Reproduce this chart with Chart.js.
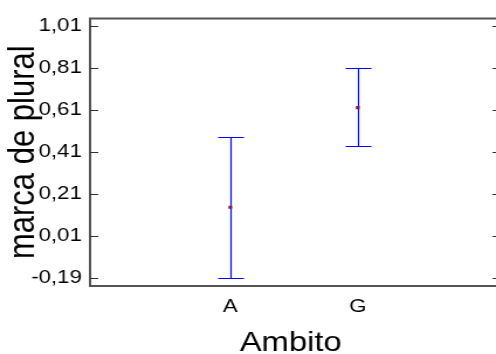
<!DOCTYPE html>
<html lang="es">
<head>
<meta charset="UTF-8">
<title>marca de plural por Ambito</title>
<script src="https://cdn.jsdelivr.net/npm/chart.js"></script>
<style>
  html, body { margin: 0; padding: 0; background: #fff; overflow: hidden; }
  /* the reference is stretched sideways, so draw narrower and scale up */
  .wrap { width: 424px; height: 354px; transform: scaleX(1.1698); transform-origin: 0 0; }
</style>
</head>
<body>
<div class="wrap"><canvas id="chart" width="424" height="354"></canvas></div>
<script>
const categories = ['A', 'G'];
const means = [0.147, 0.621];
const lower = [-0.192, 0.438];
const upper = [0.479, 0.809];
const yTicks = [-0.19, 0.01, 0.21, 0.41, 0.61, 0.81, 1.01];

const FONT = "'Liberation Sans', Arial, sans-serif";

// error bars: vertical line plus caps, positioned through the chart scales
const errorBars = {
  id: 'errorBars',
  beforeDatasetsDraw(chart) {
    const ctx = chart.ctx, xs = chart.scales.x, ys = chart.scales.y;
    ctx.save();
    ctx.strokeStyle = '#0000ff';
    ctx.lineWidth = 1.2;
    categories.forEach((c, i) => {
      const x = Math.round(xs.getPixelForValue(i + 1)) + 0.5;
      const yl = Math.round(ys.getPixelForValue(lower[i])) + 0.5;
      const yh = Math.round(ys.getPixelForValue(upper[i])) + 0.5;
      ctx.beginPath();
      ctx.moveTo(x, yl); ctx.lineTo(x, yh);
      ctx.moveTo(x - 11, yl); ctx.lineTo(x + 11, yl);
      ctx.moveTo(x - 11, yh); ctx.lineTo(x + 11, yh);
      ctx.stroke();
    });
    ctx.restore();
  }
};

// frame with inward tick marks
const frame = {
  id: 'frame',
  afterDraw(chart) {
    const ctx = chart.ctx, a = chart.chartArea, ys = chart.scales.y;
    ctx.save();
    ctx.strokeStyle = '#555';
    ctx.lineWidth = 2;
    ctx.beginPath();
    ctx.moveTo(chart.width, a.top); ctx.lineTo(a.left, a.top);
    ctx.lineTo(a.left, a.bottom); ctx.lineTo(chart.width, a.bottom);
    ctx.stroke();
    ctx.lineWidth = 1;
    ctx.strokeStyle = '#333';
    ctx.beginPath();
    yTicks.forEach(v => {
      const y = Math.round(ys.getPixelForValue(v)) + 0.5;
      ctx.moveTo(a.left, y); ctx.lineTo(a.left + 7, y);
      ctx.moveTo(chart.width, y); ctx.lineTo(chart.width - 3, y);
    });
    ctx.stroke();
    ctx.restore();
  }
};

new Chart(document.getElementById('chart'), {
  type: 'scatter',
  data: {
    datasets: [{
      data: categories.map((c, i) => ({ x: i + 1, y: means[i] })),
      pointStyle: 'rect',
      pointRadius: 2.2,
      backgroundColor: '#80104a',
      borderWidth: 0
    }]
  },
  options: {
    responsive: false,
    animation: false,
    layout: { padding: { top: 17, right: 0, bottom: 0, left: 0 } },
    plugins: { legend: { display: false }, tooltip: { enabled: false } },
    scales: {
      x: {
        type: 'linear',
        min: -0.1,
        max: 3.047,
        afterFit(s) { s.height = 68; },
        afterBuildTicks(s) { s.ticks = categories.map((c, i) => ({ value: i + 1 })); },
        grid: { display: false, drawTicks: false },
        border: { display: false },
        ticks: {
          callback: v => categories[v - 1],
          font: { family: FONT, size: 19 },
          color: '#000',
          padding: 9,
          autoSkip: false,
          maxRotation: 0
        },
        title: {
          display: true,
          text: 'Ambito',
          font: { family: FONT, size: 28, lineHeight: 0.8 },
          color: '#000',
          padding: 0
        }
      },
      y: {
        min: -0.228,
        max: 1.046,
        afterFit(s) { s.width = 77; },
        afterBuildTicks(s) { s.ticks = yTicks.map(v => ({ value: v })); },
        grid: { display: false, drawTicks: false },
        border: { display: false },
        ticks: {
          callback: v => v.toFixed(2).replace('.', ','),
          font: { family: FONT, size: 19 },
          color: '#000',
          padding: 7
        },
        title: {
          display: true,
          text: 'marca de plural',
          font: { family: FONT, size: 31 },
          color: '#000',
          padding: { top: 2, bottom: 0 }
        }
      }
    }
  },
  plugins: [errorBars, frame]
});
</script>
</body>
</html>
